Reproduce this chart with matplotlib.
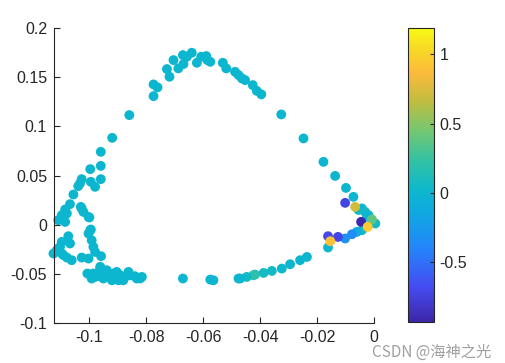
import matplotlib
matplotlib.use("Agg")
import matplotlib.pyplot as plt
from matplotlib.colors import LinearSegmentedColormap

plt.rcParams['font.family'] = ['Liberation Sans', 'DejaVu Sans']

# upper arc (all near 0 -> cyan)
arc_x = [-0.0859, -0.0919, -0.0959, -0.0959, -0.0996, -0.0774, -0.0760, -0.0774, -0.0727, -0.0718,
         -0.0704, -0.0687, -0.0671, -0.0669, -0.0640, -0.0657, -0.0622, -0.0607, -0.0589, -0.0585,
         -0.0575, -0.0531, -0.0519, -0.0488, -0.0476, -0.0464, -0.0453, -0.0426, -0.0412, -0.0396,
         -0.0326, -0.0248, -0.0178, -0.0137, -0.0099, -0.0073]
arc_y = [0.1114, 0.0883, 0.0741, 0.0598, 0.0565, 0.1426, 0.1396, 0.1307, 0.1582, 0.1504,
         0.1673, 0.1589, 0.1724, 0.1633, 0.1748, 0.1707, 0.1646, 0.1707, 0.1714, 0.1673,
         0.1656, 0.1646, 0.1589, 0.1554, 0.1521, 0.1487, 0.1470, 0.1419, 0.1361, 0.1325,
         0.1121, 0.0877, 0.0639, 0.0496, 0.0374, 0.0283]

# lower arc
low_x = [-0.0236, -0.0260, -0.0295, -0.0324, -0.0359, -0.0388, -0.0418, -0.0424, -0.0447, -0.0470,
         -0.0476, -0.0564, -0.0575, -0.0671, -0.0821, -0.0839, -0.0833, -0.0815]
low_y = [-0.0328, -0.0361, -0.0402, -0.0446, -0.0470, -0.0490, -0.0507, -0.0514, -0.0531, -0.0547,
         -0.0547, -0.0565, -0.0558, -0.0547, -0.0547, -0.0524, -0.0547, -0.0531]
low_c = [0.0, 0.0, 0.0, 0.02, 0.05, 0.08, 0.15, 0.2, 0.05, 0.0,
         0.0, 0.0, 0.0, 0.0, 0.0, 0.0, 0.0, 0.0]

# left cluster
left_x = [-0.0959, -0.0994, -0.0979, -0.1026, -0.1032, -0.1038, -0.1055, -0.1067, -0.1084, -0.1078,
          -0.1096, -0.1084, -0.1108, -0.1026, -0.1020, -0.1002, -0.0996, -0.1002, -0.0991, -0.0985,
          -0.0979, -0.0958, -0.1073, -0.1067, -0.1096, -0.1102, -0.1113, -0.1125, -0.1090, -0.1078,
          -0.1061, -0.1026, -0.1002, -0.1006, -0.0991, -0.0985, -0.0961, -0.0938, -0.0961, -0.0950,
          -0.0926, -0.0909, -0.0891, -0.0903, -0.0874, -0.0862, -0.0880, -0.0979, -0.0938, -0.0920,
          -0.0897, -0.0856, -0.0944, -0.1029, -0.0999, -0.0994, -0.1108, -0.1096, -0.0961, -0.0915]
left_y = [0.0463, 0.0436, 0.0385, 0.0463, 0.0419, 0.0392, 0.0307, 0.0209, 0.0155, 0.0114,
          0.0097, 0.0028, 0.0046, 0.0165, 0.0130, 0.0079, -0.0056, -0.0090, -0.0158, -0.0226,
          -0.0277, -0.0320, -0.0117, -0.0191, -0.0175, -0.0226, -0.0259, -0.0293, -0.0310, -0.0334,
          -0.0361, -0.0334, -0.0344, -0.0496, -0.0547, -0.0496, -0.0446, -0.0463, -0.0524, -0.0547,
          -0.0514, -0.0537, -0.0514, -0.0480, -0.0531, -0.0480, -0.0565, -0.0531, -0.0531, -0.0565,
          -0.0565, -0.0514, -0.0480, 0.0181, 0.0073, -0.0049, -0.0242, -0.0293, -0.0427, -0.0496]

# right tip, mixed values
tip_x = [-0.0043, -0.0055, -0.0032, -0.0020, -0.0025, 0.0004, -0.0043, -0.0162, -0.0061,
         -0.0078, -0.0102, -0.0102, -0.0067, -0.0008, -0.0046, -0.0127, -0.0162, -0.0154, -0.0023]
tip_y = [0.0165, 0.0150, 0.0130, 0.0097, 0.0080, 0.0012, -0.0056, -0.0232, -0.0073,
         -0.0097, -0.0140, 0.0222, 0.0181, 0.0053, 0.0029, -0.0124, -0.0117, -0.0168, -0.0022]
tip_c = [0.0, 0.02, 0.05, 0.03, 0.0, 0.08, 0.05, 0.0, -0.1,
         -0.35, -0.3, -0.72, 0.72, 0.38, -0.92, -0.72, -0.7, 0.9, 0.95]

cb_ticks = [-0.5, 0, 0.5, 1]
c_lim = (-0.93, 1.19)

parula = LinearSegmentedColormap.from_list('parula', [
    (0.00, (0.24, 0.15, 0.66)),
    (0.12, (0.27, 0.30, 0.95)),
    (0.25, (0.14, 0.52, 0.98)),
    (0.37, (0.06, 0.66, 0.88)),
    (0.45, (0.05, 0.72, 0.80)),
    (0.55, (0.20, 0.76, 0.64)),
    (0.65, (0.45, 0.78, 0.45)),
    (0.75, (0.75, 0.74, 0.25)),
    (0.85, (0.99, 0.73, 0.23)),
    (0.93, (0.97, 0.85, 0.15)),
    (1.00, (0.98, 0.98, 0.08)),
])

xs = arc_x + left_x + low_x + tip_x
ys = arc_y + left_y + low_y + tip_y
cs = [0.0] * len(arc_x) + [0.0] * len(left_x) + low_c + tip_c

fig = plt.figure(figsize=(5.05, 3.63), dpi=100)
ax = fig.add_axes([0.107, 0.110, 0.634, 0.813])
sc = ax.scatter(xs, ys, c=cs, cmap=parula, vmin=c_lim[0], vmax=c_lim[1],
                s=50, linewidths=0, clip_on=False)
ax.set_xlim(-0.1123, 0)
ax.set_ylim(-0.1, 0.2)
ax.set_xticks([-0.1, -0.08, -0.06, -0.04, -0.02, 0])
ax.set_xticklabels(['-0.1', '-0.08', '-0.06', '-0.04', '-0.02', '0'])
ax.set_yticks([-0.1, -0.05, 0, 0.05, 0.1, 0.15, 0.2])
ax.set_yticklabels(['-0.1', '-0.05', '0', '0.05', '0.1', '0.15', '0.2'])
for s in ['top', 'right']:
    ax.spines[s].set_visible(False)
for s in ['left', 'bottom']:
    ax.spines[s].set_color('#262626')
    ax.spines[s].set_linewidth(0.8)
ax.tick_params(direction='in', length=4, width=0.8, color='#262626',
               labelcolor='#262626', labelsize=11.5, pad=5)

cax = fig.add_axes([0.808, 0.113, 0.0515, 0.810])
cb = fig.colorbar(sc, cax=cax, ticks=cb_ticks)
cb.ax.set_yticklabels(['-0.5', '0', '0.5', '1'])
cb.outline.set_linewidth(0.8)
cb.outline.set_edgecolor('#262626')
cb.ax.tick_params(direction='in', length=3, width=0.8, color='#262626',
                  labelcolor='#262626', labelsize=11.5, pad=4)

# watermark
fig.text(0.972, 0.030, 'CSDN @海神之光', ha='right', va='center', fontsize=11,
         color='#a0a0a0', family=['Noto Sans CJK SC', 'DejaVu Sans'])

fig.savefig('out.png', dpi=100)
